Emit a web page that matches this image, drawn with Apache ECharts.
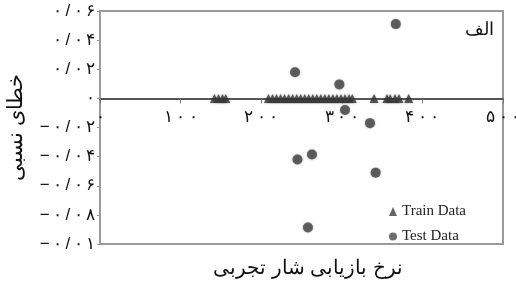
<!DOCTYPE html>
<html>
<head>
<meta charset="utf-8">
<script src="https://cdn.jsdelivr.net/npm/echarts@6/dist/echarts.min.js"></script>
<style>
  html, body { margin: 0; padding: 0; background: #fff; }
  #chart { width: 516px; height: 287px; }
</style>
</head>
<body>
<div id="chart"></div>
<script>
// تیک‌های محور
var xTickLabels = ['۰', '۱۰۰', '۲۰۰', '۳۰۰', '۴۰۰', '۵۰۰'];
var yTickLabels = ['−۰/۰۱', '−۰/۰۸', '−۰/۰۶', '−۰/۰۴', '−۰/۰۲', '۰', '۰/۰۲', '۰/۰۴', '۰/۰۶'];

// Train Data (x)
var trainX = [142, 147, 152, 156,
  209, 214, 219, 224, 229, 234, 239, 244, 249, 254, 259, 264, 269, 274,
  279, 284, 289, 294, 299, 304, 309, 313,
  340, 356, 360, 366, 371, 383];
var trainY = [0, 0, 0, 0,
  0, 0, 0, 0, 0, 0, 0, 0, 0, 0, 0, 0, 0, 0,
  0, 0, 0, 0, 0, 0, 0, 0,
  0, 0, 0, 0, 0, 0];

// Test Data
var testX = [367, 242, 297, 304, 335, 245, 263, 342, 258];
var testY = [0.051, 0.018, 0.0096, -0.008, -0.017, -0.042, -0.0385, -0.051, -0.0887];

var yMin = -0.1, yMax = 0.06;
var gridTop = 11, gridBottom = 43, H = 287;
// محور x روی خط صفر
var zeroOffset = -(H - gridTop - gridBottom) * (0 - yMin) / (yMax - yMin);

// فاصله‌ی نازک بین نویسه‌ها
function spaced(s) { return s.split('').join('\u2009'); }

var chart = echarts.init(document.getElementById('chart'));

chart.setOption({
  animation: false,
  grid: {
    left: 100,
    right: 13,
    top: gridTop,
    bottom: gridBottom,
    outerBoundsMode: 'none',
    show: true,
    borderColor: '#9a9a9a',
    borderWidth: 2
  },
  legend: {
    orient: 'vertical',
    left: 384,
    top: 199,
    itemGap: 10,
    itemWidth: 8,
    itemHeight: 9,
    textStyle: { fontFamily: 'Liberation Serif', fontSize: 15, color: '#222' },
    data: [
      { name: 'Train Data', icon: 'triangle' },
      { name: 'Test Data', icon: 'circle' }
    ]
  },
  graphic: [
    {
      type: 'text',
      left: 213,
      top: 258,
      style: { text: 'نرخ بازیابی شار تجربی', fontSize: 20, fill: '#111' }
    },
    {
      type: 'text',
      right: 22,
      top: 21,
      style: { text: 'الف', fontSize: 18, fill: '#111' }
    }
  ],
  xAxis: {
    type: 'value',
    min: 0,
    max: 500,
    interval: 100,
    offset: zeroOffset,
    axisLine: { onZero: false, lineStyle: { color: '#555', width: 2 } },
    axisTick: { show: true, length: 5, lineStyle: { color: '#777' } },
    axisLabel: {
      fontSize: 17,
      color: '#111',
      margin: 10,
      formatter: function (v) { return spaced(xTickLabels[Math.round(v / 100)]); }
    },
    splitLine: { show: false }
  },
  yAxis: {
    type: 'value',
    min: yMin,
    max: yMax,
    interval: 0.02,
    name: 'خطای نسبی',
    nameLocation: 'middle',
    nameGap: 73,
    nameRotate: 90,
    nameTextStyle: { fontSize: 21, color: '#111' },
    axisLine: { show: true, lineStyle: { color: '#9a9a9a', width: 2 } },
    axisTick: { show: true, length: 3, lineStyle: { color: '#999' } },
    axisLabel: {
      fontSize: 17,
      color: '#111',
      margin: 5,
      formatter: function (v) { return spaced(yTickLabels[Math.round((v - yMin) / 0.02)]); }
    },
    splitLine: { show: false }
  },
  series: [
    {
      name: 'Train Data',
      type: 'scatter',
      symbol: 'triangle',
      symbolSize: 9,
      itemStyle: { color: '#3c3c3c', shadowBlur: 2, shadowColor: 'rgba(0,0,0,0.5)' },
      data: trainX.map(function (x, i) { return [x, trainY[i]]; }),
      z: 3
    },
    {
      name: 'Test Data',
      type: 'scatter',
      symbol: 'circle',
      symbolSize: 10,
      itemStyle: { color: '#4a4a4a', shadowBlur: 2, shadowColor: 'rgba(0,0,0,0.5)' },
      data: testX.map(function (x, i) { return [x, testY[i]]; }),
      z: 4
    }
  ]
});
</script>
</body>
</html>
